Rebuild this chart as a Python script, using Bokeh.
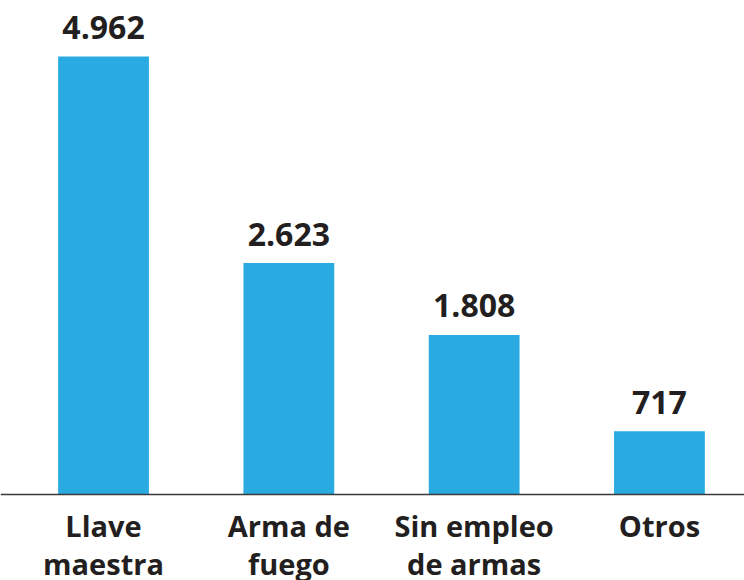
import numpy as np
from bokeh.plotting import figure
from bokeh.models import Range1d, Span, ColumnDataSource
from bokeh.core.properties import value
from bokeh.embed import file_html
from bokeh.resources import INLINE

categories = ["Llave\nmaestra", "Arma de\nfuego", "Sin empleo\nde armas", "Otros"]
values = [4962, 2623, 1808, 717]
value_labels = ["4.962", "2.623", "1.808", "717"]

BAR_COLOR = "#29ABE2"
TEXT_COLOR = "#231F20"
FONT = "Open Sans"

xs = np.arange(len(categories))
line1 = [c.split("\n")[0] for c in categories]
line2 = [c.split("\n")[1] if "\n" in c else "" for c in categories]

src = ColumnDataSource(dict(x=xs, top=values, vlab=value_labels,
                            l1=line1, l2=line2, zero=[0] * len(xs)))

p = figure(width=744, height=580, output_backend="svg", toolbar_location=None,
           x_range=Range1d(-0.556, 3.459), y_range=Range1d(-974, 5597),
           min_border_left=0, min_border_right=0, min_border_top=0, min_border_bottom=0)
p.axis.visible = False
p.grid.visible = False
p.outline_line_color = None
p.background_fill_color = "white"
p.border_fill_color = "white"

p.vbar(x="x", top="top", bottom=0, width=0.49, source=src,
       fill_color=BAR_COLOR, line_color=None)

p.add_layout(Span(location=0, dimension="width", line_color="#3a3a3a", line_width=1.5))

p.text(x="x", y="top", text="vlab", source=src, y_offset=-29,
       text_align="center", text_baseline="alphabetic",
       text_font=value(FONT), text_font_style="bold", text_font_size="32px",
       text_color=TEXT_COLOR)

p.text(x="x", y="zero", text="l1", source=src, y_offset=31,
       text_align="center", text_baseline="alphabetic",
       text_font=value(FONT), text_font_style="bold", text_font_size="29px",
       text_color=TEXT_COLOR)
p.text(x="x", y="zero", text="l2", source=src, y_offset=69,
       text_align="center", text_baseline="alphabetic",
       text_font=value(FONT), text_font_style="bold", text_font_size="29px",
       text_color=TEXT_COLOR)

open("out.html", "w").write(file_html(p, INLINE))
